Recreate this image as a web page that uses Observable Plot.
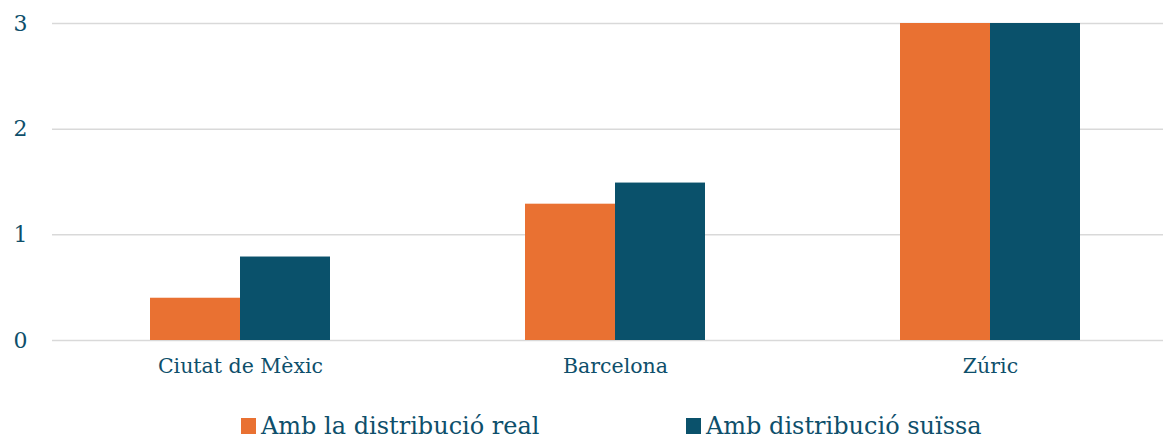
<!DOCTYPE html>
<html>
<head>
<meta charset="utf-8">
<script src="https://cdn.jsdelivr.net/npm/d3@7"></script>
<script src="https://cdn.jsdelivr.net/npm/@observablehq/plot@0.6"></script>
<style>
  html, body { margin: 0; padding: 0; background: #fff; }
  body { width: 1163px; height: 439px; overflow: hidden; font-family: "DejaVu Serif", "Liberation Serif", serif; color: #0e4f6b; }
  #legend { height: 44px; font-size: 24px; position: relative; }
  .item { position: absolute; display: flex; align-items: center; top: 17px; white-space: nowrap; }
  .sw { width: 15px; height: 16px; margin-right: 5px; display: inline-block; }
</style>
</head>
<body>
<div id="chart"></div>
<div id="legend"></div>
<script>
const cities = ["Ciutat de Mèxic", "Barcelona", "Zúric"];
const series = ["Amb la distribució real", "Amb distribució suïssa"];
const realValues = [0.40, 1.29, 3.0];
const swissValues = [0.79, 1.49, 3.0];
const yTicks = [0, 1, 2, 3];
const colors = ["#E97132", "#0A516B"];

const data = cities.flatMap((c, i) => [
  {city: c, series: series[0], value: realValues[i]},
  {city: c, series: series[1], value: swissValues[i]}
]);

const textColor = "#0e4f6b";

const chart = Plot.plot({
  width: 1163,
  height: 395,
  marginLeft: 52,
  marginRight: 0,
  marginTop: 23,
  marginBottom: 55,
  style: {fontFamily: "'DejaVu Serif', 'Liberation Serif', serif", color: textColor, background: "#fff", overflow: "visible"},
  x: {domain: cities, range: [52.5, 1177.5], paddingInner: 0.52, paddingOuter: 0.26, label: null},
  y: {domain: [0, 3], label: null},
  color: {domain: series, range: colors},
  marks: [
    Plot.ruleY(yTicks, {stroke: "#d9d9d9", strokeWidth: 1.5}),
    Plot.barY(data.filter(d => d.series === series[0]), {x: "city", y: "value", fill: "series", insetRight: 90, insetLeft: 0}),
    Plot.barY(data.filter(d => d.series === series[1]), {x: "city", y: "value", fill: "series", insetLeft: 90, insetRight: 0}),
    Plot.axisY({ticks: yTicks, tickSize: 0, tickPadding: 25, fontSize: 22, fill: textColor, tickFormat: d => String(d)}),
    Plot.axisX({tickSize: 0, tickPadding: 18, fontSize: 20.5, fill: textColor})
  ]
});
document.getElementById("chart").appendChild(chart);

const legend = document.getElementById("legend");
const lx = [241, 686];
series.forEach((s, i) => {
  const it = document.createElement("div");
  it.className = "item";
  it.style.left = lx[i] + "px";
  const sw = document.createElement("span");
  sw.className = "sw";
  sw.style.background = colors[i];
  it.appendChild(sw);
  const t = document.createElement("span");
  t.textContent = s;
  it.appendChild(t);
  legend.appendChild(it);
});
</script>
</body>
</html>
